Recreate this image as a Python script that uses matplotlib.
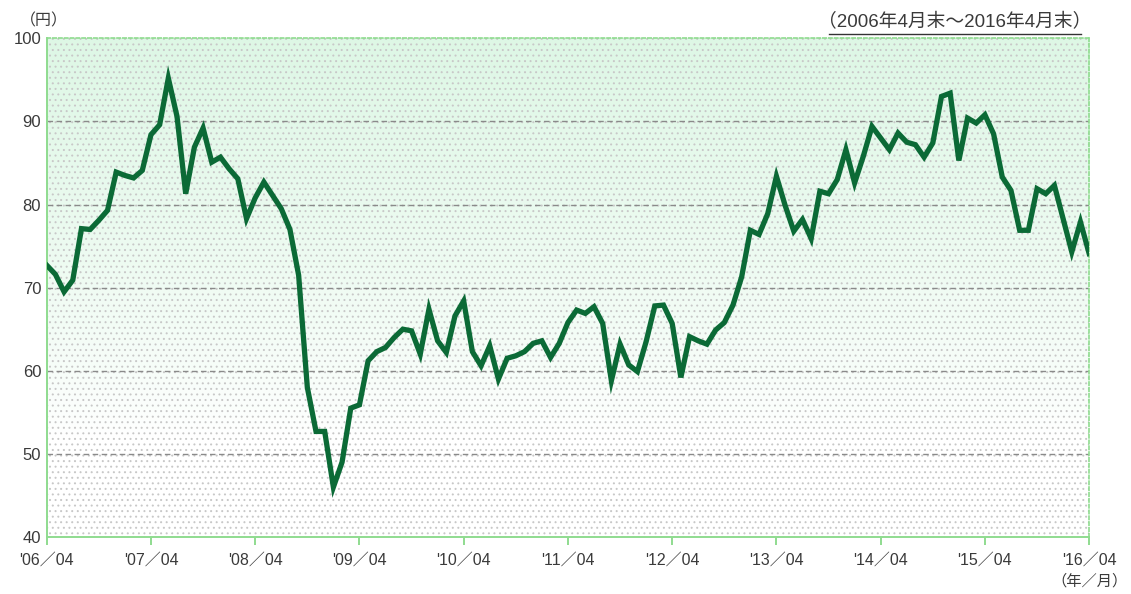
import numpy as np
import matplotlib.pyplot as plt
from matplotlib.lines import Line2D
from matplotlib.patches import Rectangle

plt.rcParams["font.family"] = ["Liberation Sans", "Noto Sans CJK JP", "DejaVu Sans"]
plt.rcParams["hatch.linewidth"] = 0.7

# monthly month-end values, 2006/04 .. 2016/04 (yen)
values = [
    72.7, 71.6, 69.5, 70.9, 77.1, 77.0, 78.1, 79.3, 83.9, 83.5, 83.2, 84.1,
    88.4, 89.6, 95.2, 90.6, 81.3, 86.9, 89.2, 85.1, 85.7, 84.3, 83.1, 78.3,
    80.8, 82.7, 81.1, 79.5, 77.0, 71.5, 58.0, 52.7, 52.7, 46.0, 49.0, 55.5,
    55.9, 61.2, 62.3, 62.8, 64.0, 65.0, 64.8, 62.0, 67.4, 63.6, 62.2, 66.6,
    68.4, 62.3, 60.6, 63.0, 59.0, 61.5, 61.8, 62.3, 63.3, 63.6, 61.6, 63.3,
    65.8, 67.3, 66.9, 67.7, 65.7, 58.8, 63.2, 60.7, 59.9, 63.5, 67.8, 67.9,
    65.7, 59.2, 64.1, 63.6, 63.2, 64.9, 65.8, 67.9, 71.3, 76.9, 76.4, 78.9,
    83.4, 79.9, 76.8, 78.2, 75.9, 81.6, 81.3, 83.0, 86.6, 82.6, 85.8, 89.4,
    88.0, 86.6, 88.6, 87.5, 87.2, 85.7, 87.4, 93.0, 93.4, 85.3, 90.4, 89.8,
    90.8, 88.5, 83.3, 81.7, 76.9, 76.9, 81.9, 81.3, 82.3, 78.3, 74.3, 77.9,
    74.1,
]
year_labels = ["'06／04", "'07／04", "'08／04", "'09／04", "'10／04", "'11／04",
               "'12／04", "'13／04", "'14／04", "'15／04", "'16／04"]
y_ticks = [40, 50, 60, 70, 80, 90, 100]

GREEN = "#0b6a36"
SPINE = "#8fdc8f"
TEXT = "#3a3a3a"

fig = plt.figure(figsize=(11.31, 5.94), dpi=100)
ax = fig.add_axes([0.0413, 0.096, 0.9217, 0.8395])

months = np.arange(len(values))
ax.set_xlim(0, len(values) - 1)
ax.set_ylim(40, 100)

# background: pale mint fading to white, with a fine dot texture
grad = np.linspace(0, 1, 256).reshape(-1, 1)
top = np.array([0.87, 0.97, 0.90])
bot = np.array([1.0, 1.0, 1.0])
mix = np.clip((grad - 0.2) / 0.8, 0, 1) ** 0.8
img = bot + (top - bot) * mix[..., None]
ax.imshow(img, aspect="auto", extent=[0, len(values) - 1, 40, 100],
          origin="lower", zorder=0)
ax.add_patch(Rectangle((0, 40), len(values) - 1, 60, facecolor="none",
                       edgecolor="#c8c8c8", hatch="...", lw=0, zorder=0.5))

for y in y_ticks[1:-1]:
    ax.axhline(y, color="#8a8a8a", lw=1.0, ls=(0, (4, 2.5)), zorder=1)

ax.plot(months, values, color=GREEN, lw=3.8, solid_joinstyle="miter", zorder=3)

for side in ("left", "bottom"):
    ax.spines[side].set_color(SPINE)
    ax.spines[side].set_linewidth(1.4)
for side in ("top", "right"):
    ax.spines[side].set_color(SPINE)
    ax.spines[side].set_linewidth(1.2)
    ax.spines[side].set_linestyle((0, (2, 1.5)))

ax.set_xticks(np.arange(0, len(values), 12))
ax.set_xticklabels(year_labels, fontsize=11.5, color=TEXT)
ax.set_yticks(y_ticks)
ax.set_yticklabels([str(v) for v in y_ticks], fontsize=12, color=TEXT)
ax.tick_params(axis="x", direction="out", length=6, width=1.4, color=SPINE, pad=5)
ax.tick_params(axis="y", length=0, pad=4)

fig.text(0.018, 0.965, "（円）", fontsize=11.5, color=TEXT, ha="left", va="center")
fig.text(0.965, 0.962, "（2006年4月末～2016年4月末）", fontsize=13.5,
         color=TEXT, ha="right", va="center")
fig.add_artist(Line2D([0.733, 0.956], [0.942, 0.942], color="#333333", lw=1.0))
fig.text(0.963, 0.022, "（年／月）", fontsize=11, color=TEXT,
         ha="center", va="center")

fig.savefig("out.png", dpi=100)
